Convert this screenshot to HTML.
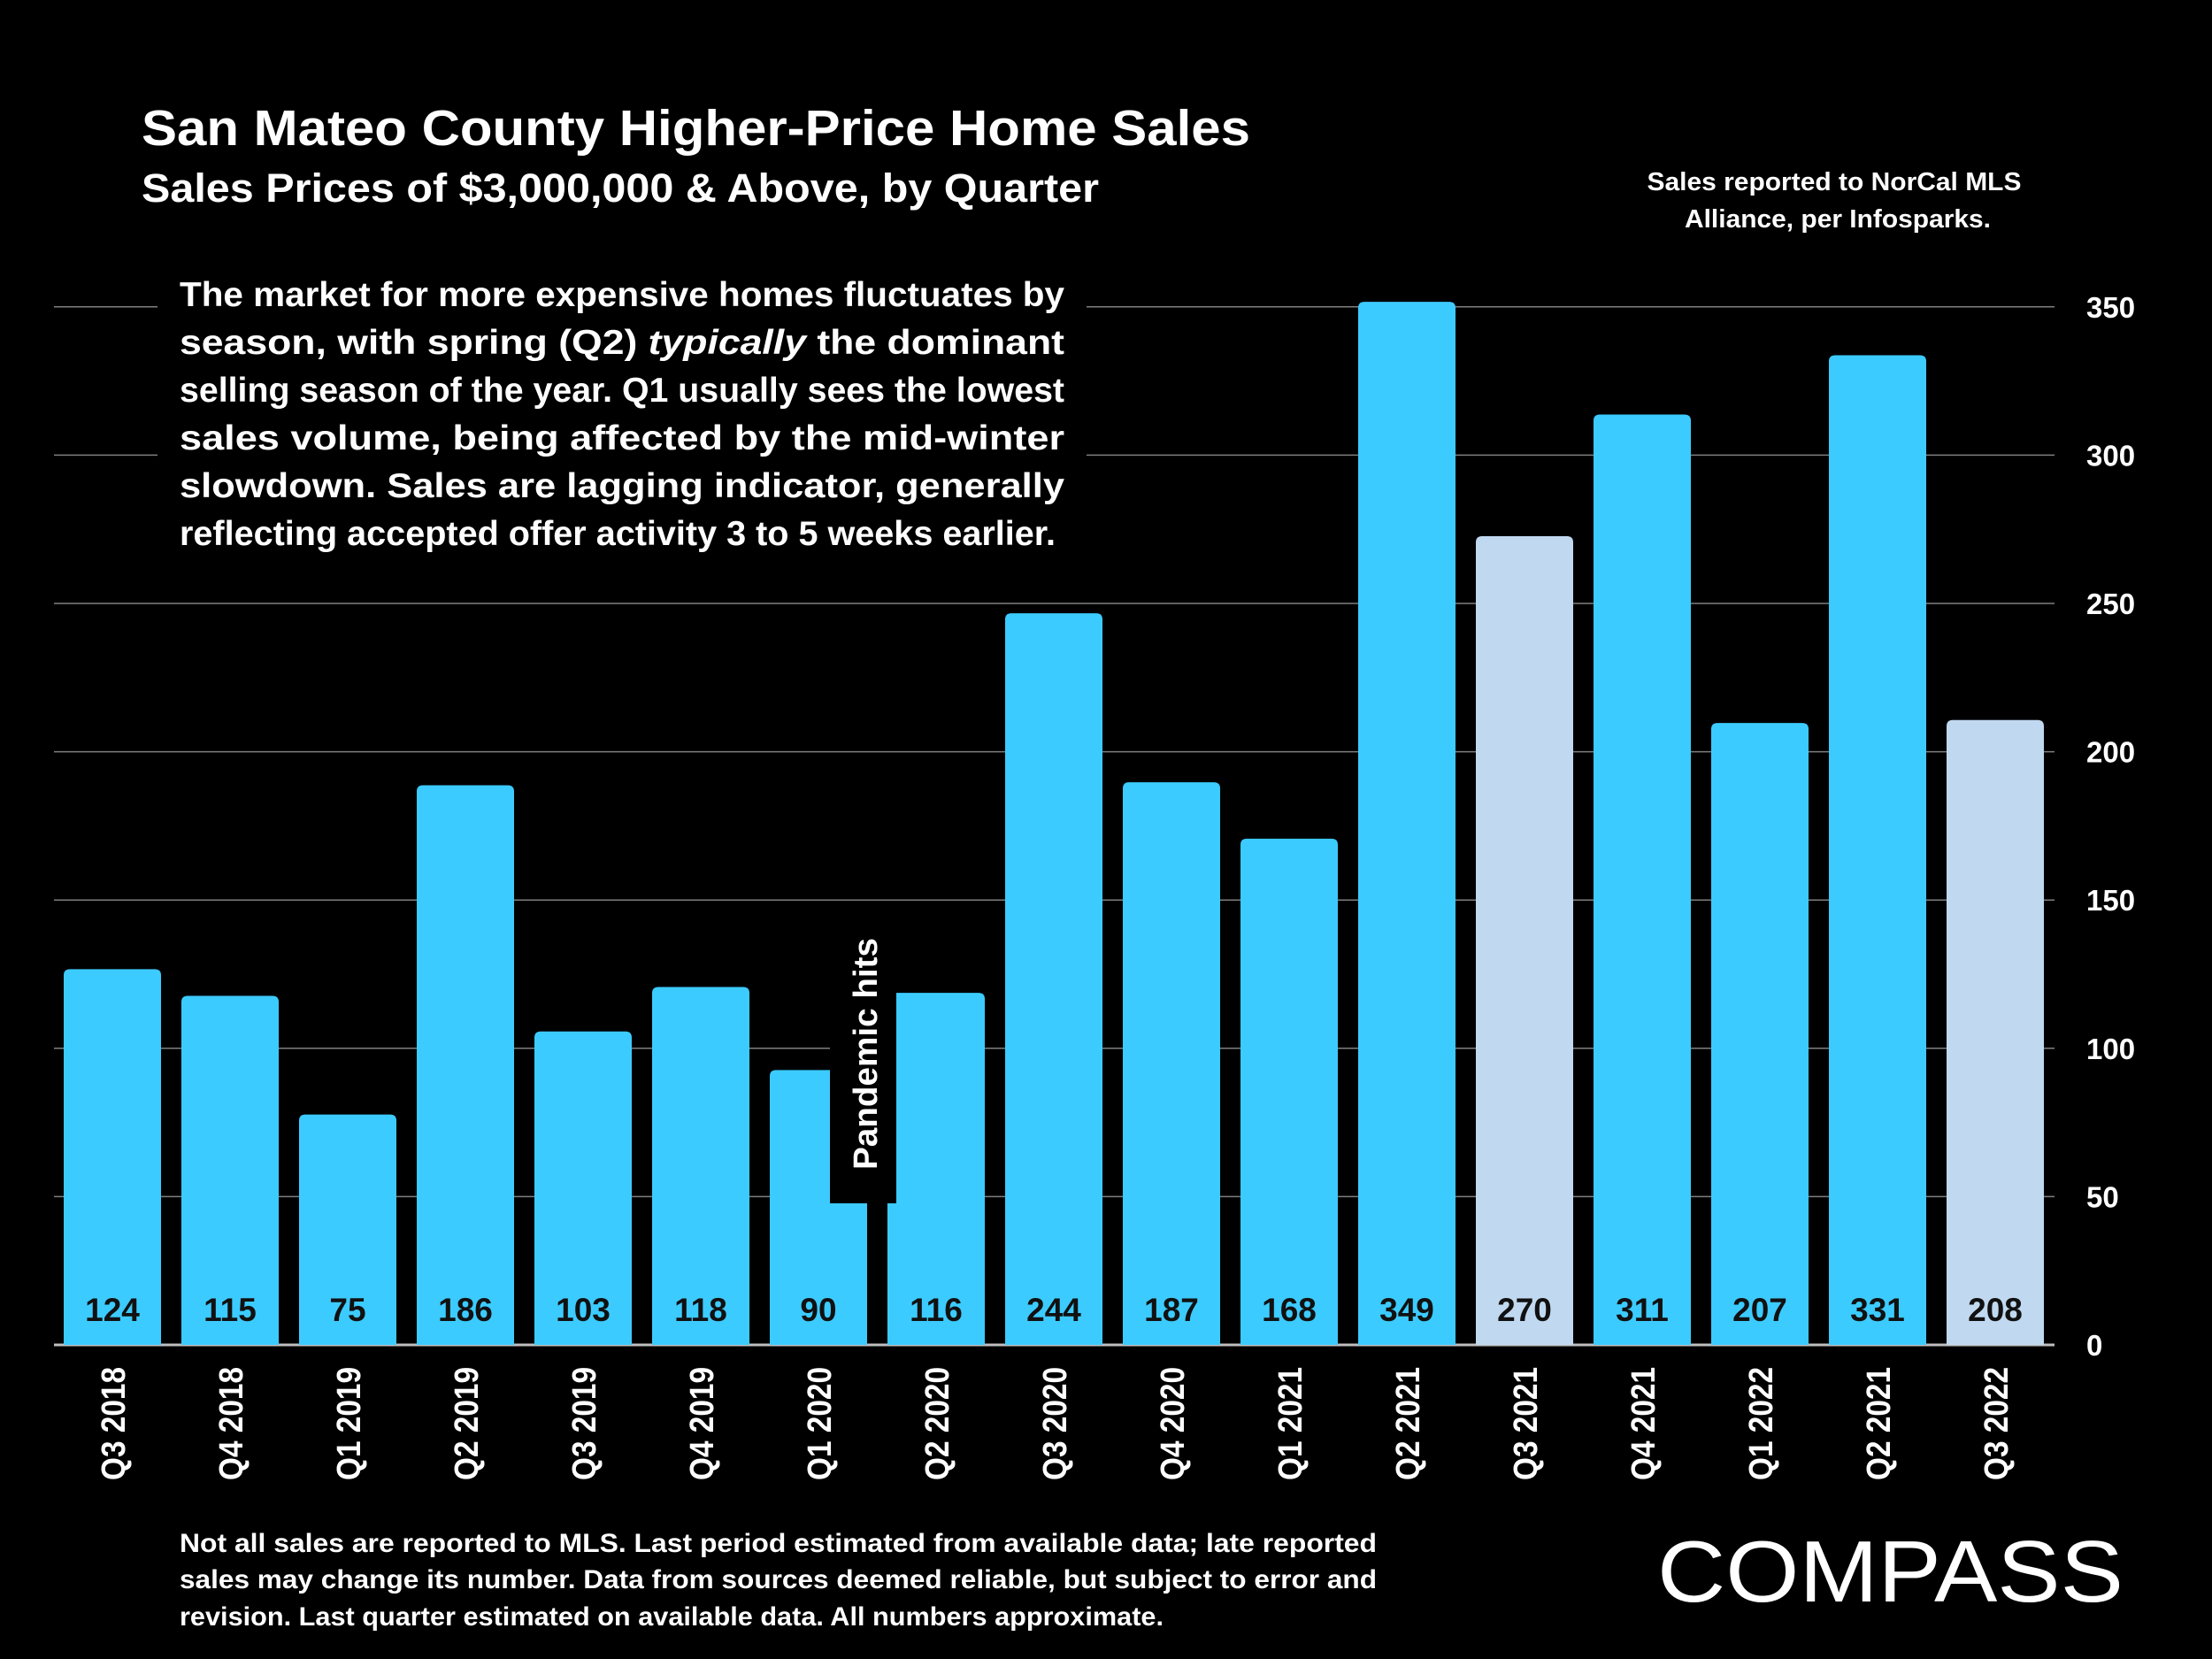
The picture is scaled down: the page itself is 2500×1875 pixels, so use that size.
<!DOCTYPE html>
<html><head><meta charset="utf-8"><style>
html,body{margin:0;padding:0;background:#000;}
svg{display:block;}
text{font-family:"Liberation Sans",sans-serif;fill:#fff;font-weight:bold;}
</style></head><body>
<svg id="chart" width="2500" height="1875" viewBox="0 0 2500 1875" xmlns="http://www.w3.org/2000/svg">
<rect width="2500" height="1875" fill="#000"/>
<text x="160" y="164" font-size="57" textLength="1253" lengthAdjust="spacingAndGlyphs">San Mateo County Higher-Price Home Sales</text>
<text x="160" y="228" font-size="45" textLength="1082" lengthAdjust="spacingAndGlyphs">Sales Prices of $3,000,000 &amp; Above, by Quarter</text>
<text font-size="29" text-anchor="middle">
<tspan x="2077" y="215" textLength="423" lengthAdjust="spacingAndGlyphs">Sales reported to NorCal MLS</tspan>
<tspan x="2077" y="257" textLength="346" lengthAdjust="spacingAndGlyphs">Alliance, per Infosparks.</tspan>
</text>
<g id="grid"></g>
<g id="bars"></g>
<rect x="178" y="305" width="1050" height="330" fill="#000"/>
<g font-size="39">
<text x="203" y="346" textLength="1000" lengthAdjust="spacingAndGlyphs">The market for more expensive homes fluctuates by</text>
<text x="203" y="400" textLength="1000" lengthAdjust="spacingAndGlyphs">season, with spring (Q2) <tspan font-style="italic">typically</tspan> the dominant</text>
<text x="203" y="454" textLength="1000" lengthAdjust="spacingAndGlyphs">selling season of the year. Q1 usually sees the lowest</text>
<text x="203" y="508" textLength="1000" lengthAdjust="spacingAndGlyphs">sales volume, being affected by the mid-winter</text>
<text x="203" y="562" textLength="1000" lengthAdjust="spacingAndGlyphs">slowdown. Sales are lagging indicator, generally</text>
<text x="203" y="616" textLength="990" lengthAdjust="spacingAndGlyphs">reflecting accepted offer activity 3 to 5 weeks earlier.</text>
</g>
<rect x="938" y="1071" width="75" height="289" fill="#000"/>
<text font-size="38" transform="translate(991,1322) rotate(-90)" textLength="262" lengthAdjust="spacingAndGlyphs">Pandemic hits</text>
<g font-size="30">
<text x="203" y="1754" textLength="1353" lengthAdjust="spacingAndGlyphs">Not all sales are reported to MLS. Last period estimated from available data; late reported</text>
<text x="203" y="1795" textLength="1353" lengthAdjust="spacingAndGlyphs">sales may change its number. Data from sources deemed reliable, but subject to error and</text>
<text x="203" y="1837" textLength="1112" lengthAdjust="spacingAndGlyphs">revision. Last quarter estimated on available data. All numbers  approximate.</text>
</g>
<text x="1873" y="1810" font-size="98" style="font-weight:normal" textLength="527" lengthAdjust="spacingAndGlyphs">COMPASS</text>
</svg>
<script>
const categories = ["Q3 2018","Q4 2018","Q1 2019","Q2 2019","Q3 2019","Q4 2019","Q1 2020","Q2 2020","Q3 2020","Q4 2020","Q1 2021","Q2 2021","Q3 2021","Q4 2021","Q1 2022","Q2 2021","Q3 2022"];
const sales = [124,115,75,186,103,118,90,116,244,187,168,349,270,311,207,331,208];
const highlighted = [false,false,false,false,false,false,false,false,false,false,false,false,true,false,false,false,true];
const yTicks = [0,50,100,150,200,250,300,350];

const NS = "http://www.w3.org/2000/svg";
const y0 = 1520, pxPerUnit = 3.352, capExtra = 9;
function yScale(v){ return y0 - v * pxPerUnit; }
function xCenter(i){ return 127 + i * 133; }
const barW = 110;

const grid = document.getElementById('grid');
yTicks.forEach(t => {
  const l = document.createElementNS(NS,'line');
  
  
  l.setAttribute('x1', 61); l.setAttribute('x2', 2322);
  l.setAttribute('y1', yScale(t)); l.setAttribute('y2', yScale(t));
  l.setAttribute('stroke', t === 0 ? '#bfbfbf' : '#7f7f7f');
  l.setAttribute('stroke-width', t === 0 ? 3 : 1.5);
  grid.appendChild(l);
  const tx = document.createElementNS(NS,'text');
  
  
  tx.setAttribute('x', 2358); tx.setAttribute('y', yScale(t) + 12);
  tx.setAttribute('font-size', 33);
  tx.textContent = t;
  grid.appendChild(tx);
});

const bars = document.getElementById('bars');
sales.forEach((v, i) => {
  const cx = xCenter(i), top = yScale(v) - capExtra, r = 7;
  const x = cx - barW/2;
  const p = document.createElementNS(NS,'path');
  
  
  p.setAttribute('d', `M${x},${y0} V${top+r} Q${x},${top} ${x+r},${top} H${x+barW-r} Q${x+barW},${top} ${x+barW},${top+r} V${y0} Z`);
  p.setAttribute('fill', highlighted[i] ? '#c0d9f0' : '#3ccbff');
  bars.appendChild(p);
  const vt = document.createElementNS(NS,'text');
  
  
  vt.setAttribute('x', cx); vt.setAttribute('y', 1493);
  vt.setAttribute('text-anchor', 'middle');
  vt.setAttribute('font-size', 37);
  vt.setAttribute('style', 'fill:#111');
  vt.textContent = v;
  bars.appendChild(vt);
  const xl = document.createElementNS(NS,'text');
  
  
  xl.setAttribute('transform', `translate(${cx+14},1545) rotate(-90)`);
  xl.setAttribute('text-anchor', 'end');
  xl.setAttribute('font-size', 38);
  xl.setAttribute('textLength', 128);
  xl.setAttribute('lengthAdjust', 'spacingAndGlyphs');
  xl.textContent = categories[i];
  bars.appendChild(xl);
});
</script>
</body></html>
